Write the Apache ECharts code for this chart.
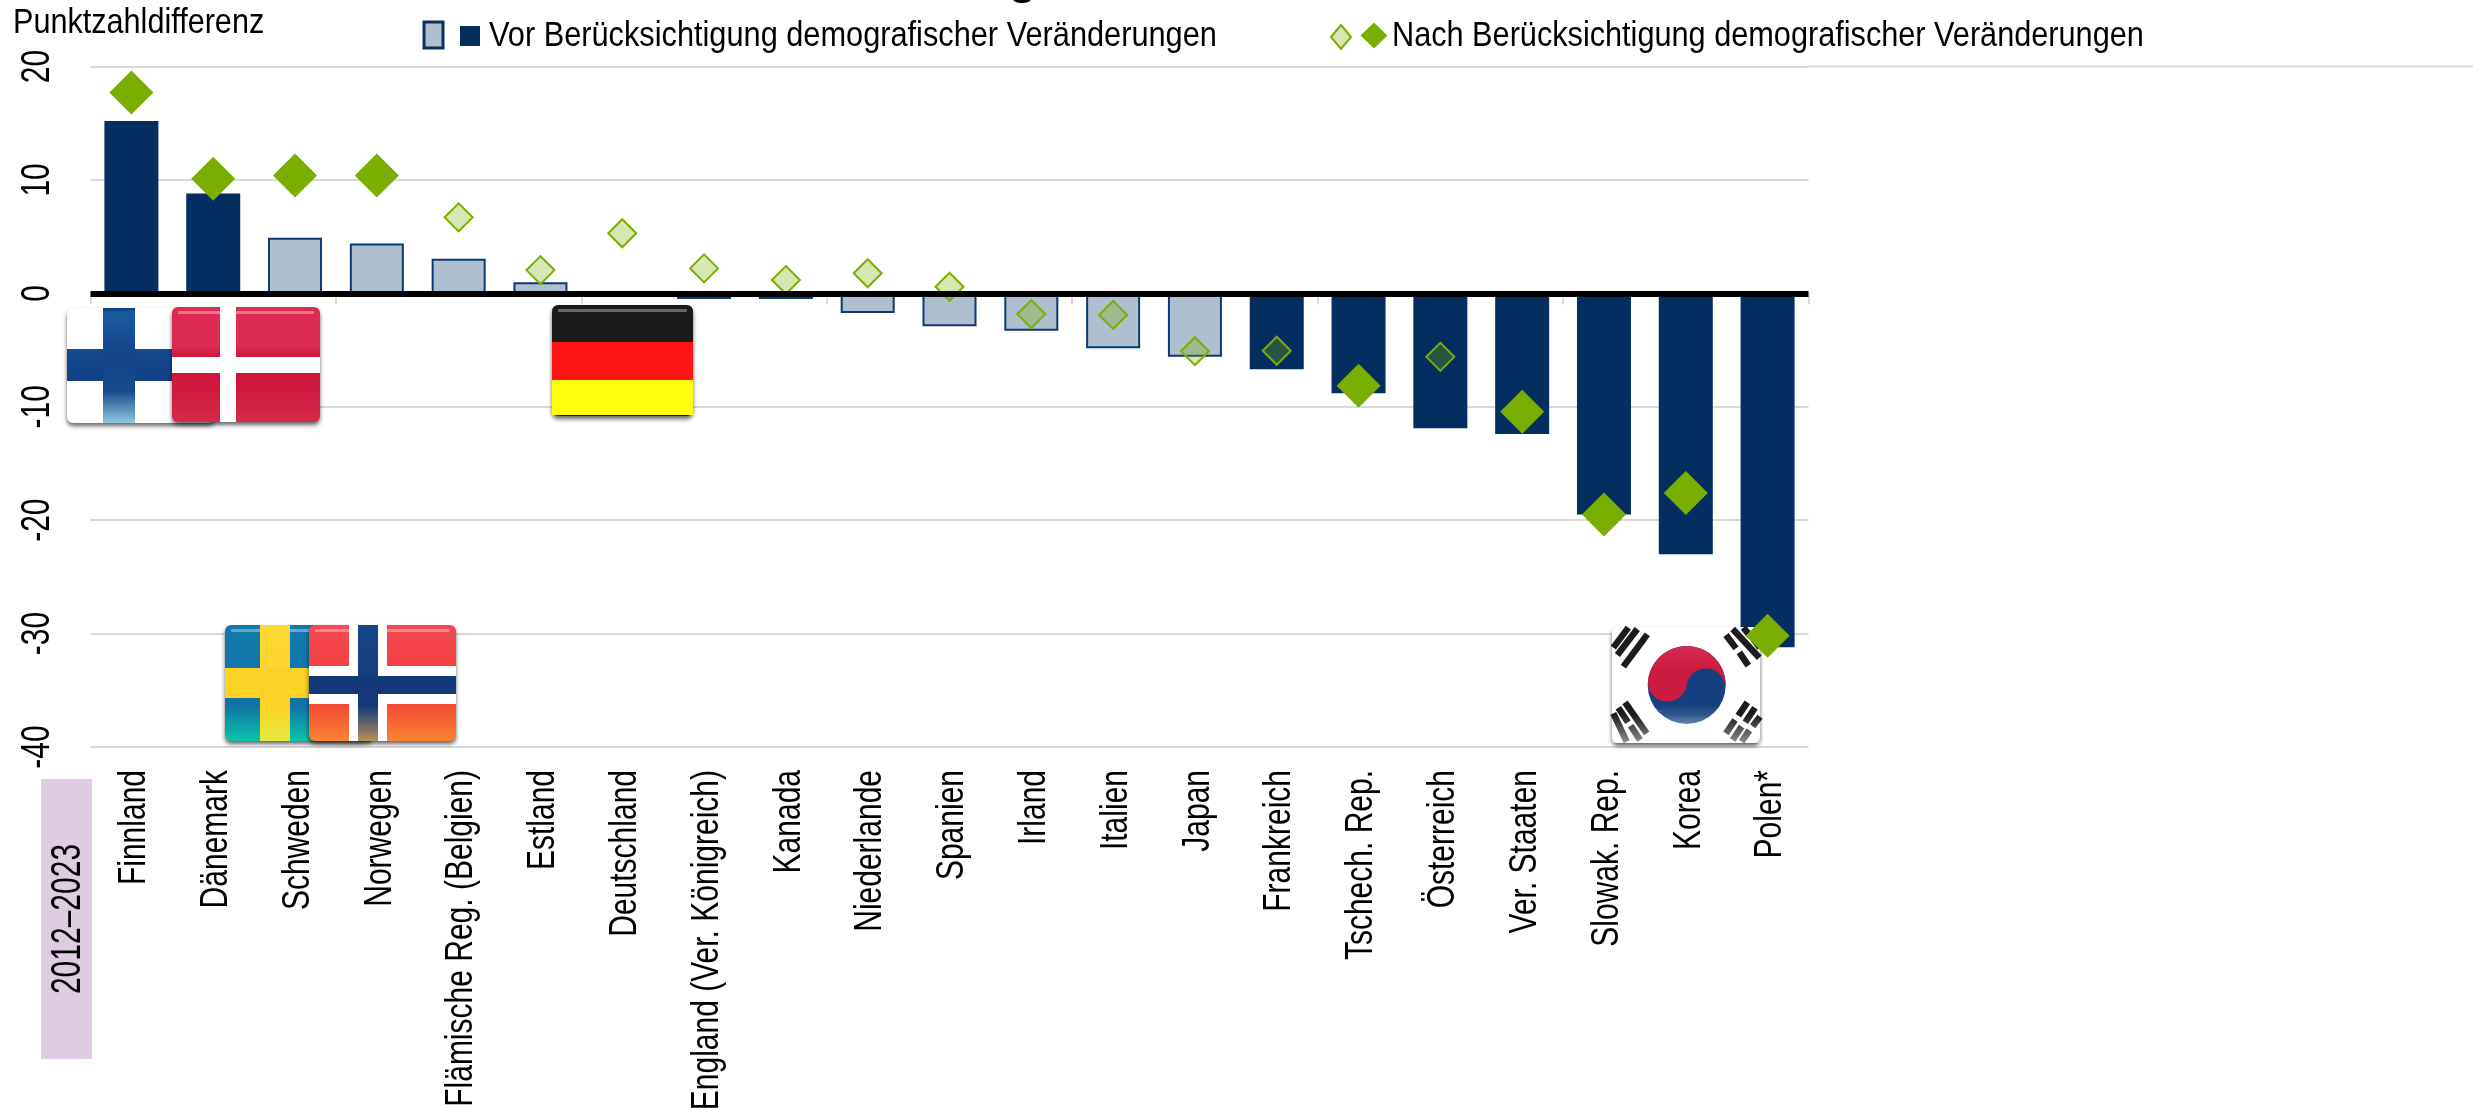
<!DOCTYPE html>
<html>
<head>
<meta charset="utf-8">
<style>html,body{margin:0;padding:0;background:#fff}#chart{width:2473px;height:1108px}</style>
<script src="https://cdn.jsdelivr.net/npm/echarts@6/dist/echarts.min.js"></script>
</head>
<body>
<div id="chart"></div>
<script>
const categories = ['Finnland', 'Dänemark', 'Schweden', 'Norwegen', 'Flämische Reg. (Belgien)', 'Estland', 'Deutschland', 'England (Ver. Königreich)', 'Kanada', 'Niederlande', 'Spanien', 'Irland', 'Italien', 'Japan', 'Frankreich', 'Tschech. Rep.', 'Österreich', 'Ver. Staaten', 'Slowak. Rep.', 'Korea', 'Polen*']
// vor Berücksichtigung: signifikant (dunkel) / nicht signifikant (hell)
const beforeDark = [15.2, 8.8, null, null, null, null, null, null, null, null, null, null, null, null, -6.7, -8.8, -11.9, -12.4, -19.5, -23, -31.2]
const beforeLight = [null, null, 4.9, 4.4, 3.05, 0.97, null, -0.5, -0.5, -1.74, -2.9, -3.3, -4.85, -5.6, null, null, null, null, null, null, null]
// nach Berücksichtigung
const afterBig = [17.7, 10.1, 10.4, 10.4, null, null, null, null, null, null, null, null, null, null, null, -8.15, null, -10.44, -19.5, -17.6, -30.2]
const afterSmall = [null, null, null, null, 6.7, 2.05, 5.3, 2.2, 1.17, 1.77, 0.58, -1.83, -1.9, -5.1, -5.06, null, -5.6, null, null, null, null]
const yTicks = [20, 10, 0, -10, -20, -30, -40]
const yAxisTitle = 'Punktzahldifferenz'
const legendBefore = 'Vor Berücksichtigung demografischer Veränderungen'
const legendAfter = 'Nach Berücksichtigung demografischer Veränderungen'
const periodLabel = '2012–2023'

const navy = '#032e5f'
const steel = '#b0bfcf'
const green = '#7aae00'
const gridColor = '#d9d9d9'
const textFont = '30px "Liberation Sans"'

function vGrad (stops) {
  return {
    type: 'linear',
    x: 0,
    y: 0,
    x2: 0,
    y2: 1,
    colorStops: stops.map(s => ({ offset: s[0], color: s[1] }))
  }
}

function rect (x, y, w, h, fill, r) {
  return { type: 'rect', z: 3, silent: true, shape: { x: x, y: y, width: w, height: h, r: r || 0 }, style: { fill: fill } }
}

function base (x, y, w, h, fill) {
  const el = rect(x, y, w, h, fill, 6)
  el.style.shadowColor = 'rgba(0,0,0,0.6)'
  el.style.shadowBlur = 4
  el.style.shadowOffsetY = 3
  return el
}

function gloss (x, y, w) {
  return rect(x + 6, y + 4, w - 12, 3, 'rgba(255,255,255,0.35)', 1)
}

function flagFinland () {
  const x = 67; const y = 308; const w = 148; const h = 115
  return [
    base(x, y, w, h, '#fff'),
    rect(x, 349, w, 32, vGrad([[0, '#144a8f'], [1, '#103f86']])),
    rect(103, y, 32, h, vGrad([[0, '#0d3f85'], [0.05, '#1b5c9e'], [0.4, '#124389'], [0.72, '#144a8c'], [1, '#8fc6de']]))
  ]
}

function flagDenmark () {
  const x = 172; const y = 307; const w = 148; const h = 115
  return [
    base(x, y, w, h, vGrad([[0, '#dc2a52'], [0.35, '#dc2a52'], [0.42, '#d0183e'], [0.7, '#d0183e'], [1, '#d62a4a']])),
    gloss(x, y, w),
    rect(220, y, 16, h, '#fff'),
    rect(x, 357, w, 16, '#fff')
  ]
}

function flagGermany () {
  const x = 552; const y = 305; const w = 141; const h = 111
  return [
    base(x, y, w, h, '#1a1a1a'),
    rect(x, 342, w, 38, '#fc1512'),
    rect(x, 380, w, 35, '#ffff12'),
    gloss(x, y, w)
  ]
}

function flagSweden () {
  const x = 225; const y = 625; const w = 147; const h = 116
  return [
    base(x, y, w, h, vGrad([[0, '#127aae'], [0.7, '#0f73a6'], [1, '#0bc4a8']])),
    gloss(x, y, w),
    rect(260, y, 30, h, vGrad([[0, '#fdd835'], [0.7, '#fdd226'], [1, '#e2ea40']])),
    rect(x, 668, w, 30, '#fdd226')
  ]
}

function flagNorway () {
  const x = 309; const y = 625; const w = 147; const h = 116
  return [
    base(x, y, w, h, vGrad([[0, '#f24a52'], [0.6, '#f23a36'], [1, '#f98430']])),
    gloss(x, y, w),
    rect(349, y, 38, h, '#fff'),
    rect(x, 666, w, 38, '#fff'),
    rect(358, y, 20, h, vGrad([[0, '#1a4488'], [0.7, '#14397a'], [1, '#b98e58']])),
    rect(x, 676, w, 18, '#14397a')
  ]
}

function arcPoints (cx, cy, r, from, to) {
  const pts = []
  for (let i = 0; i <= 32; i++) {
    const a = from + (to - from) * i / 32
    pts.push([cx + r * Math.cos(a), cy + r * Math.sin(a)])
  }
  return pts
}

function flagKorea () {
  const x = 1612; const y = 627; const w = 148; const h = 116
  const cx = 1686.7; const cy = 685; const r = 39
  // rote Hälfte des Taegeuk, leicht gekippt
  const tilt = 0.15
  const red = [].concat(
    arcPoints(cx, cy, r, Math.PI + tilt, 2 * Math.PI + tilt),
    arcPoints(cx + r / 2 * Math.cos(tilt), cy + r / 2 * Math.sin(tilt), r / 2, tilt, tilt - Math.PI),
    arcPoints(cx - r / 2 * Math.cos(tilt), cy - r / 2 * Math.sin(tilt), r / 2, tilt, tilt + Math.PI)
  )
  const bars = [
    [40, 98, 85, 38], [52, 120, 112, 42], [70, 155, 142, 58],
    [378, 60, 408, 100], [418, 112, 445, 152], [398, 42, 478, 128], [430, 38, 450, 62], [460, 72, 480, 98],
    [75, 262, 140, 355], [55, 278, 84, 322], [92, 332, 120, 375], [40, 295, 80, 380],
    [378, 355, 405, 315], [415, 302, 442, 262], [398, 375, 425, 335], [436, 322, 465, 278], [425, 380, 448, 346], [458, 334, 480, 305]
  ]
  const lines = bars.map(b => ({
    type: 'line',
    z: 3,
    silent: true,
    shape: { x1: 1600 + b[0] / 3, y1: 615 + b[1] / 3, x2: 1600 + b[2] / 3, y2: 615 + b[3] / 3 },
    style: { stroke: '#1c1c1c', lineWidth: 6.5 }
  }))
  return [base(x, y, w, h, '#fff')].concat(lines, [
    { type: 'circle', z: 3, silent: true, shape: { cx: cx, cy: cy, r: r }, style: { fill: vGrad([[0, '#14407f'], [0.75, '#14407f'], [1, '#4a6e9e']]) } },
    { type: 'polygon', z: 3, silent: true, shape: { points: red }, style: { fill: vGrad([[0, '#d22c50'], [0.4, '#cc1b41'], [1, '#cc1b41']]) } },
    rect(x, y + 88, w, 28, vGrad([[0, 'rgba(255,255,255,0)'], [1, 'rgba(255,255,255,0.5)']]))
  ])
}

function hText (text, x, y, scaleX) {
  return {
    type: 'text',
    z: 7,
    silent: true,
    x: x,
    y: y,
    scaleX: scaleX,
    scaleY: 1.04,
    style: { text: text, font: '34px "Liberation Sans"', fill: '#000', align: 'left', verticalAlign: 'middle' }
  }
}

function diamond (x, y, w, h, fill) {
  const pts = [[x + w / 2, y], [x + w, y + h / 2], [x + w / 2, y + h], [x, y + h / 2]]
  return { type: 'polygon', z: 7, silent: true, shape: { points: pts }, style: { fill: fill, stroke: green, lineWidth: 2 } }
}

const legendParts = [
  hText(yAxisTitle, 13, 23, 0.9),
  { type: 'rect', z: 7, silent: true, shape: { x: 424, y: 22, width: 19, height: 26 }, style: { fill: steel, stroke: '#0d2f5f', lineWidth: 3 } },
  rect(460, 26, 20, 20, navy),
  hText(legendBefore, 489, 36, 0.904),
  diamond(1331, 25, 20, 24, '#d7e6b3'),
  diamond(1362, 24, 24, 23, green),
  hText(legendAfter, 1392, 36, 0.902),
  // abgeschnittener Rest der Überschrift am oberen Rand
  { type: 'ellipse', z: 7, silent: true, shape: { cx: 1022, cy: -1, rx: 9, ry: 4 }, style: { fill: '#000' } },
  // oberste Linie läuft bis zum Rand
  rect(1808, 65.5, 665, 2, gridColor),
  rect(41, 779, 51, 280, '#e0cce2')
]

const chart = echarts.init(document.getElementById('chart'))

function vLabel (text, x, y, align, scaleAcross) {
  return {
    type: 'text',
    x: x,
    y: y,
    rotation: Math.PI / 2,
    scaleY: scaleAcross,
    style: { text: text, font: textFont, fill: '#000', align: align, verticalAlign: 'middle' }
  }
}

const option = {
  animation: false,
  backgroundColor: '#fff',
  grid: { left: 90.5, top: 66.5, width: 1718, height: 680.5, containLabel: false },
  xAxis: {
    type: 'category',
    data: categories,
    z: 1,
    axisLine: { onZero: true, lineStyle: { color: 'transparent', width: 1 } },
    axisTick: { show: true, length: 11, lineStyle: { color: gridColor, width: 2 } },
    axisLabel: { show: false },
    splitLine: { show: false }
  },
  yAxis: {
    type: 'value',
    min: -40,
    max: 20,
    interval: 10,
    axisLine: { show: false },
    axisTick: { show: false },
    axisLabel: { show: false },
    splitLine: { show: true, lineStyle: { color: gridColor, width: 2 } }
  },
  series: [
    {
      name: legendBefore,
      type: 'bar',
      data: beforeDark,
      barWidth: 54,
      barGap: '-100%',
      z: 2,
      itemStyle: { color: navy },
      // schwarze Nulllinie, liegt über Säulen und Rauten
      markLine: {
        silent: true,
        z: 6,
        symbol: 'none',
        animation: false,
        label: { show: false },
        lineStyle: { color: '#000', width: 6, type: 'solid' },
        data: [{ yAxis: 0 }]
      }
    },
    {
      name: legendBefore + ' (n.s.)',
      type: 'bar',
      data: beforeLight,
      barWidth: 54,
      z: 2,
      itemStyle: { color: steel, borderColor: '#0d3a70', borderWidth: 2 }
    },
    {
      name: legendAfter,
      type: 'scatter',
      data: afterBig,
      symbol: 'diamond',
      symbolSize: 44,
      z: 5,
      itemStyle: { color: green, opacity: 1 }
    },
    {
      name: legendAfter + ' (n.s.)',
      type: 'scatter',
      data: afterSmall,
      symbol: 'diamond',
      symbolSize: 28,
      z: 5,
      itemStyle: { color: 'rgba(122,174,0,0.3)', borderColor: green, borderWidth: 2, opacity: 1 }
    },
    {
      // Kategorienamen, senkrecht und quer gestreckt wie im Original
      type: 'custom',
      silent: true,
      clip: false,
      z: 7,
      data: categories.map((c, i) => [i, 0]),
      renderItem: function (params, api) {
        const p = api.coord([params.dataIndex, 0])
        return vLabel(categories[params.dataIndex], p[0] + 3, 770, 'right', 1.3)
      }
    },
    {
      // Skalenbeschriftung
      type: 'custom',
      silent: true,
      clip: false,
      z: 7,
      data: yTicks.map(v => [0, v]),
      renderItem: function (params, api) {
        const v = yTicks[params.dataIndex]
        const p = api.coord([0, v])
        return vLabel(String(v), 38, p[1], 'center', 1.34)
      }
    },
    {
      // Zeitraum in der violetten Fläche
      type: 'custom',
      silent: true,
      clip: false,
      z: 7,
      data: [[0, 0]],
      renderItem: function () {
        return vLabel(periodLabel, 68, 919, 'center', 1.42)
      }
    }
  ],
  graphic: {
    elements: [].concat(
      flagFinland(), flagDenmark(), flagGermany(), flagSweden(), flagNorway(), flagKorea(), legendParts
    )
  }
}
chart.setOption(option)
</script>
</body>
</html>
